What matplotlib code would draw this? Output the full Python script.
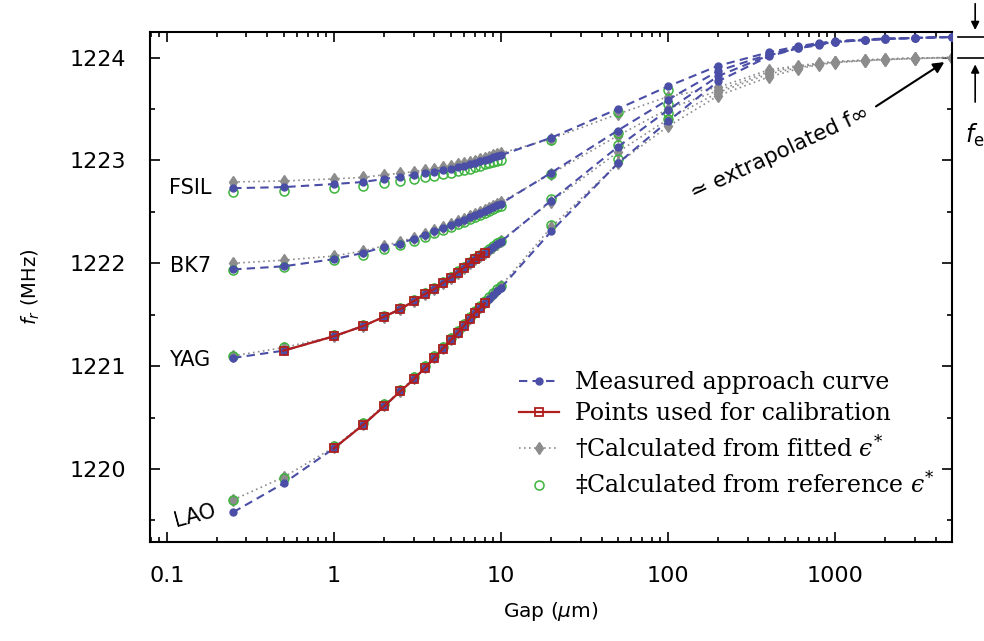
"""Approach curves of the resonator frequency versus gap for four substrates."""

import matplotlib
matplotlib.use("Agg")
import matplotlib.pyplot as plt
from matplotlib.font_manager import FontProperties
from matplotlib.ticker import LogLocator, NullFormatter, MultipleLocator, FixedLocator, FixedFormatter

# gap values (um)
gap = [0.25, 0.5, 1, 1.5, 2, 2.5, 3, 3.5, 4, 4.5, 5, 5.5, 6, 6.5, 7, 7.5, 8,
       8.5, 9, 9.5, 10, 20, 50, 100, 200, 400, 600, 800, 1000, 1500, 2000,
       3000, 5000]
n_ref = 24  # reference values only computed up to 100 um

materials = ["FSIL", "BK7", "YAG", "LAO"]

# measured f_r (MHz)
fsil_meas = [1222.73, 1222.74, 1222.77, 1222.79, 1222.82, 1222.84, 1222.86,
             1222.875, 1222.89, 1222.905, 1222.92, 1222.935, 1222.95, 1222.96,
             1222.975, 1222.99, 1223.005, 1223.015, 1223.03, 1223.04, 1223.05,
             1223.22, 1223.50, 1223.72, 1223.92, 1224.05, 1224.11, 1224.14,
             1224.16, 1224.175, 1224.185, 1224.19, 1224.20]
bk7_meas = [1221.94, 1221.97, 1222.04, 1222.10, 1222.16, 1222.19, 1222.24,
            1222.275, 1222.31, 1222.34, 1222.37, 1222.40, 1222.42, 1222.45,
            1222.47, 1222.49, 1222.51, 1222.53, 1222.55, 1222.565, 1222.58,
            1222.88, 1223.29, 1223.59, 1223.87, 1224.03, 1224.10, 1224.13,
            1224.155, 1224.17, 1224.18, 1224.19, 1224.20]
yag_meas = [1221.08, 1221.15, 1221.29, 1221.39, 1221.48, 1221.555, 1221.63,
            1221.70, 1221.75, 1221.81, 1221.86, 1221.91, 1221.955, 1222.00,
            1222.04, 1222.07, 1222.10, 1222.13, 1222.16, 1222.185, 1222.21,
            1222.61, 1223.13, 1223.49, 1223.82, 1224.02, 1224.09, 1224.13,
            1224.15, 1224.17, 1224.18, 1224.19, 1224.20]
lao_meas = [1219.58, 1219.86, 1220.20, 1220.43, 1220.61, 1220.755, 1220.87,
            1220.98, 1221.08, 1221.17, 1221.25, 1221.32, 1221.39, 1221.46,
            1221.52, 1221.565, 1221.61, 1221.65, 1221.69, 1221.73, 1221.76,
            1222.31, 1222.97, 1223.38, 1223.77, 1224.01, 1224.09, 1224.12,
            1224.15, 1224.17, 1224.18, 1224.19, 1224.20]

# calculated from fitted epsilon*
fsil_fit = [1222.79, 1222.80, 1222.82, 1222.835, 1222.86, 1222.875, 1222.89,
            1222.905, 1222.92, 1222.935, 1222.945, 1222.96, 1222.97, 1222.985,
            1222.995, 1223.01, 1223.025, 1223.035, 1223.05, 1223.06, 1223.07,
            1223.21, 1223.45, 1223.62, 1223.71, 1223.88, 1223.92, 1223.945,
            1223.96, 1223.975, 1223.985, 1223.995, 1224.00]
bk7_fit = [1222.00, 1222.03, 1222.07, 1222.12, 1222.17, 1222.21, 1222.25,
           1222.285, 1222.32, 1222.35, 1222.38, 1222.41, 1222.435, 1222.46,
           1222.48, 1222.50, 1222.52, 1222.54, 1222.56, 1222.58, 1222.595,
           1222.87, 1223.24, 1223.50, 1223.68, 1223.86, 1223.91, 1223.94,
           1223.96, 1223.975, 1223.985, 1223.995, 1224.00]
yag_fit = [1221.10, 1221.18, 1221.29, 1221.39, 1221.48, 1221.555, 1221.63,
           1221.70, 1221.75, 1221.81, 1221.86, 1221.91, 1221.955, 1222.00,
           1222.04, 1222.07, 1222.10, 1222.13, 1222.16, 1222.19, 1222.22,
           1222.60, 1223.08, 1223.40, 1223.66, 1223.84, 1223.90, 1223.935,
           1223.955, 1223.97, 1223.98, 1223.99, 1224.00]
lao_fit = [1219.70, 1219.92, 1220.21, 1220.44, 1220.62, 1220.76, 1220.88,
           1220.99, 1221.09, 1221.18, 1221.26, 1221.33, 1221.40, 1221.47,
           1221.53, 1221.575, 1221.62, 1221.66, 1221.70, 1221.74, 1221.78,
           1222.35, 1222.97, 1223.33, 1223.63, 1223.81, 1223.89, 1223.93,
           1223.95, 1223.97, 1223.98, 1223.99, 1224.00]

# calculated from reference epsilon* (gaps up to 100 um)
fsil_ref = [1222.69, 1222.70, 1222.73, 1222.75, 1222.78, 1222.80, 1222.82,
            1222.835, 1222.85, 1222.865, 1222.88, 1222.895, 1222.91, 1222.92,
            1222.935, 1222.95, 1222.96, 1222.97, 1222.985, 1222.995, 1223.005,
            1223.20, 1223.47, 1223.68]
bk7_ref = [1221.935, 1221.965, 1222.03, 1222.085, 1222.14, 1222.175, 1222.22,
           1222.255, 1222.29, 1222.32, 1222.35, 1222.38, 1222.40, 1222.43,
           1222.45, 1222.47, 1222.49, 1222.51, 1222.53, 1222.545, 1222.56,
           1222.87, 1223.27, 1223.55]
yag_ref = [1221.10, 1221.19, 1221.30, 1221.40, 1221.49, 1221.565, 1221.64,
           1221.71, 1221.76, 1221.82, 1221.87, 1221.92, 1221.965, 1222.01,
           1222.05, 1222.08, 1222.11, 1222.14, 1222.17, 1222.195, 1222.22,
           1222.62, 1223.15, 1223.46]
lao_ref = [1219.695, 1219.91, 1220.22, 1220.45, 1220.63, 1220.77, 1220.89,
           1221.00, 1221.10, 1221.19, 1221.27, 1221.34, 1221.41, 1221.48,
           1221.54, 1221.585, 1221.63, 1221.67, 1221.71, 1221.75, 1221.78,
           1222.37, 1223.01, 1223.40]

# index ranges of the points used for calibration
yag_cal = (1, 17)   # 0.5 .. 8 um
lao_cal = (2, 17)   # 1 .. 8 um

f_inf = 1224.0
f_meas_inf = 1224.2

BLUE = "#4a4ea6"
RED = "#b01e1e"
GREY = "#8c8c8c"
GREEN = "#3cb43c"

meas = [fsil_meas, bk7_meas, yag_meas, lao_meas]
fit = [fsil_fit, bk7_fit, yag_fit, lao_fit]
ref = [fsil_ref, bk7_ref, yag_ref, lao_ref]

fig = plt.figure(figsize=(9.84, 6.41), dpi=100)
ax = fig.add_axes([0.1524, 0.1544, 0.815, 0.796])

for m, f, r in zip(meas, fit, ref):
    h_fit, = ax.plot(gap, f, linestyle=(0, (1, 2)), color=GREY, lw=1.2,
                     marker="d", ms=6.5, mfc=GREY, mec=GREY, zorder=2)
    h_ref, = ax.plot(gap[:n_ref], r, linestyle="none", marker="o", ms=6.5,
                     mfc="none", mec=GREEN, mew=1.1, zorder=3)
    h_meas, = ax.plot(gap, m, linestyle=(0, (4, 2.5)), color=BLUE, lw=1.5,
                      marker="o", ms=5, mfc=BLUE, mec=BLUE, zorder=4)

for m, (i0, i1) in [(yag_meas, yag_cal), (lao_meas, lao_cal)]:
    h_cal, = ax.plot(gap[i0:i1], m[i0:i1], color=RED, lw=1.6, marker="s",
                     ms=6, mfc="none", mec=RED, mew=1.3, zorder=5)

ax.set_xscale("log")
ax.set_xlim(0.0794, 5000)
ax.set_ylim(1219.29, 1224.25)

ax.xaxis.set_major_locator(FixedLocator([0.1, 1, 10, 100, 1000]))
ax.xaxis.set_major_formatter(FixedFormatter(["0.1", "1", "10", "100", "1000"]))
ax.xaxis.set_minor_locator(LogLocator(base=10, subs=range(2, 10)))
ax.xaxis.set_minor_formatter(NullFormatter())
ax.yaxis.set_major_locator(MultipleLocator(1))
ax.yaxis.set_minor_locator(MultipleLocator(0.5))

ax.tick_params(which="both", direction="in", top=True, right=True,
               width=1.2, labelsize=16, pad=17)
ax.tick_params(which="major", length=7)
ax.tick_params(which="minor", length=3.5)
for s in ax.spines.values():
    s.set_linewidth(1.5)

ax.set_xlabel(r"Gap ($\mu$m)", fontsize=14.5, labelpad=10)
ax.set_ylabel(r"$f_r$ (MHz)", fontsize=14, labelpad=20)

# material labels
ax.text(0.138, 1222.73, "FSIL", fontsize=15, ha="center", va="center")
ax.text(0.138, 1221.97, "BK7", fontsize=15, ha="center", va="center")
ax.text(0.138, 1221.06, "YAG", fontsize=15, ha="center", va="center")
ax.text(0.147, 1219.55, "LAO", fontsize=15, ha="center", va="center",
        rotation=15, rotation_mode="anchor")

# extrapolated f_inf annotation
ax.text(470, 1223.07, "\u2243 extrapolated f\u221e", fontsize=15.5, ha="center",
        va="center", rotation=25, rotation_mode="anchor")
ax.annotate("", xy=(4650, 1223.97), xytext=(1700, 1223.51),
            arrowprops=dict(arrowstyle="-|>", color="black", lw=1.5,
                            mutation_scale=16))

# f_e marker outside the right spine
tr = ax.get_yaxis_transform()
for yv in (f_meas_inf, f_inf):
    ax.plot([1.007, 1.045], [yv, yv], transform=tr, color="black", lw=1.2,
            clip_on=False)
ax.annotate("", xy=(1.029, f_meas_inf + 0.04), xycoords=tr,
            xytext=(1.029, 1224.55), textcoords=tr,
            arrowprops=dict(arrowstyle="-|>", color="black", lw=1.2,
                            mutation_scale=12), annotation_clip=False)
ax.annotate("", xy=(1.029, f_inf - 0.04), xycoords=tr,
            xytext=(1.029, 1223.54), textcoords=tr,
            arrowprops=dict(arrowstyle="-|>", color="black", lw=1.2,
                            mutation_scale=12), annotation_clip=False)
ax.text(1.029, 1223.24, r"$f_\mathregular{e}$", transform=tr, fontsize=17,
        ha="center", va="center", clip_on=False)

leg_font = FontProperties(family="DejaVu Serif", size=17,
                          math_fontfamily="dejavuserif")
ax.legend([h_meas, h_cal, h_fit, h_ref],
          ["Measured approach curve", "Points used for calibration",
           "$\\dagger$Calculated from fitted $\u03f5^{*}$",
           "$\\ddagger$Calculated from reference $\u03f5^{*}$"],
          loc="lower right", bbox_to_anchor=(1.005, 0.045), frameon=False,
          prop=leg_font, handlelength=1.7, labelspacing=0.33,
          handletextpad=0.7)

fig.savefig("out.png", dpi=100)
